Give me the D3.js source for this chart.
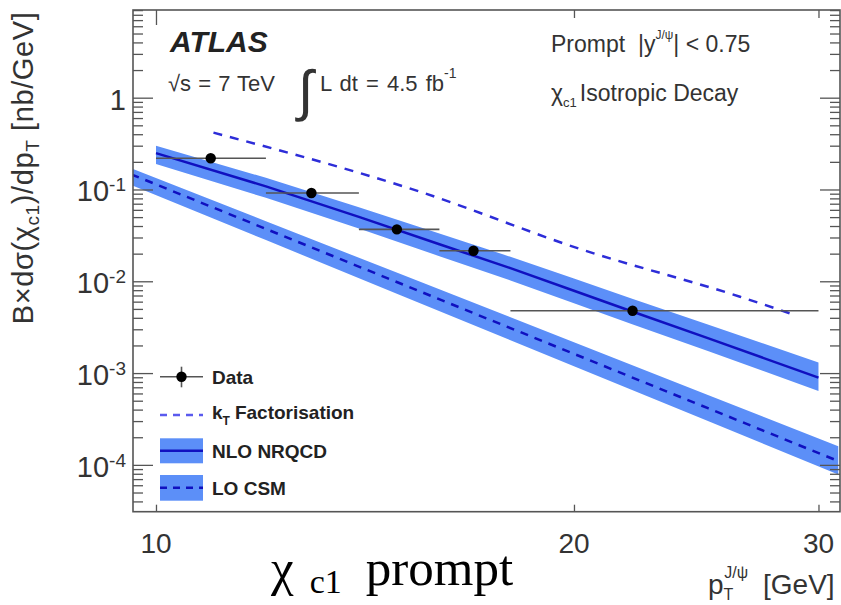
<!DOCTYPE html>
<html>
<head>
<meta charset="utf-8">
<script src="https://cdn.jsdelivr.net/npm/d3@7"></script>
<style>
  body { margin: 0; background: #fff; }
  text { font-family: "Liberation Sans", Arial, Helvetica, sans-serif; white-space: pre; }
</style>
</head>
<body>
<div id="chart"></div>
<script>
// measured chi_c1 prompt cross-section, pT bins in GeV
const binLo = [10, 12, 14, 16, 18];
const binHi = [12, 14, 16, 18, 30];
const dataPt = [10.95, 12.94, 14.91, 16.93, 22.04];
const dataVal = [0.219, 0.0916, 0.0368, 0.0215, 0.00478];

// NLO NRQCD band
const nloPt = [10, 12, 14, 16, 18, 20, 22, 25, 30];
const nloMid = [0.249, 0.108, 0.0503, 0.02535, 0.01389, 0.00788, 0.00471, 0.00239, 0.000891];
const nloHi = [0.299, 0.134, 0.0641, 0.0331, 0.01849, 0.0107, 0.0065, 0.00337, 0.0013];
const nloLo = [0.189, 0.0811, 0.0375, 0.01876, 0.01022, 0.00576, 0.00342, 0.00173, 0.000638];

// LO CSM band
const csmPt = [9.6, 12, 15, 20, 25, 31];
const csmMid = [0.146, 0.0372, 0.00946, 0.00162, 0.000412, 0.00011];
const csmHi = [0.17, 0.0451, 0.01198, 0.002167, 0.000575, 0.00016];
const csmLo = [0.1117, 0.0281, 0.00706, 0.00119, 0.000299, 0.0000788];

// kT factorisation
const ktPt = [11.0, 15.49, 20.2, 26.34, 28.61];
const ktVal = [0.416, 0.0946, 0.0225, 0.00679, 0.00448];

const xTicks = [10, 20, 30];
const yMajor = [1e-4, 1e-3, 1e-2, 1e-1, 1];

const width = 841, height = 605;
const frameL = 133, frameR = 840, frameT = 10, frameB = 511.7;

const bandColor = "#5c8ff8";
const lineColor = "#1010c0";
const ktColor = "#2d2dd8";
const axisColor = "#555";

const svg = d3.select("#chart").append("svg")
    .attr("width", width)
    .attr("height", height);

const x = d3.scaleLog().domain([9.626, 31.09]).range([frameL, frameR]);
const y = d3.scaleLog().domain([3.09e-5, 9.02]).range([frameB, frameT]);

// minor ticks 2..9 in each decade
let yMinor = [];
for (let e = -5; e <= 0; e++) {
    for (let k = 2; k <= 9; k++) {
        const v = k * Math.pow(10, e);
        if (v > y.domain()[0] && v < y.domain()[1]) yMinor.push(v);
    }
}

svg.append("clipPath").attr("id", "plot-clip")
    .append("rect")
    .attr("x", frameL).attr("y", frameT)
    .attr("width", frameR - frameL).attr("height", frameB - frameT);

const plot = svg.append("g").attr("clip-path", "url(#plot-clip)");

const band = (pts, lo, hi) => d3.area()
    .x((d, i) => x(pts[i]))
    .y0((d, i) => y(lo[i]))
    .y1((d, i) => y(hi[i]))(pts);

const line = (pts, vals, curve) => d3.line()
    .curve(curve || d3.curveLinear)
    .x((d, i) => x(pts[i]))
    .y((d, i) => y(vals[i]))(pts);

// LO CSM
plot.append("path").attr("d", band(csmPt, csmLo, csmHi)).attr("fill", bandColor);
plot.append("path").attr("d", line(csmPt, csmMid))
    .attr("fill", "none").attr("stroke", lineColor).attr("stroke-width", 2.5)
    .attr("stroke-dasharray", "8,7");

// NLO NRQCD
plot.append("path").attr("d", band(nloPt, nloLo, nloHi)).attr("fill", bandColor);
plot.append("path").attr("d", line(nloPt, nloMid))
    .attr("fill", "none").attr("stroke", lineColor).attr("stroke-width", 2.5);

// kT factorisation
plot.append("path").attr("d", line(ktPt, ktVal, d3.curveMonotoneX))
    .attr("fill", "none").attr("stroke", ktColor).attr("stroke-width", 2.5)
    .attr("stroke-dasharray", "9,8");

// data
const pts = plot.append("g");
dataPt.forEach((p, i) => {
    pts.append("line")
        .attr("x1", x(binLo[i])).attr("x2", x(binHi[i]))
        .attr("y1", y(dataVal[i])).attr("y2", y(dataVal[i]))
        .attr("stroke", "#555").attr("stroke-width", 1.6);
    pts.append("circle")
        .attr("cx", x(p)).attr("cy", y(dataVal[i])).attr("r", 5.2)
        .attr("fill", "#000");
});

// frame and ticks
const styleAxis = g => {
    g.select(".domain").remove();
    g.selectAll("line").attr("stroke", axisColor).attr("stroke-width", 1.3);
};
svg.append("g").attr("transform", `translate(${frameL},0)`)
    .call(d3.axisLeft(y).tickValues(yMinor).tickSize(-10).tickFormat("")).call(styleAxis);
svg.append("g").attr("transform", `translate(${frameL},0)`)
    .call(d3.axisLeft(y).tickValues(yMajor).tickSize(-20).tickFormat("")).call(styleAxis);
svg.append("g").attr("transform", `translate(${frameR},0)`)
    .call(d3.axisRight(y).tickValues(yMinor).tickSize(-10).tickFormat("")).call(styleAxis);
svg.append("g").attr("transform", `translate(${frameR},0)`)
    .call(d3.axisRight(y).tickValues(yMajor).tickSize(-20).tickFormat("")).call(styleAxis);
svg.append("g").attr("transform", `translate(0,${frameB})`)
    .call(d3.axisBottom(x).tickValues(xTicks).tickSize(-7).tickFormat("")).call(styleAxis);
svg.append("g").attr("transform", `translate(0,${frameT})`)
    .call(d3.axisTop(x).tickValues(xTicks.slice(1)).tickSize(-8).tickFormat("")).call(styleAxis);
svg.append("g").attr("transform", `translate(0,${frameT})`)
    .call(d3.axisTop(x).tickValues(xTicks.slice(0, 1)).tickSize(-15).tickFormat("")).call(styleAxis);

svg.append("rect")
    .attr("x", frameL).attr("y", frameT)
    .attr("width", frameR - frameL).attr("height", frameB - frameT)
    .attr("fill", "none").attr("stroke", axisColor).attr("stroke-width", 1.6);

// tick labels
yMajor.forEach(v => {
    const t = svg.append("text")
        .attr("x", 126).attr("y", y(v) + 12)
        .attr("text-anchor", "end")
        .attr("font-size", 29).attr("fill", "#333");
    if (v === 1) {
        t.text("1");
    } else {
        t.append("tspan").text("10");
        t.append("tspan").attr("dy", -10).attr("font-size", 19).text(Math.round(Math.log10(v)));
    }
});
xTicks.forEach(v => {
    svg.append("text")
        .attr("x", x(v)).attr("y", 553)
        .attr("text-anchor", "middle")
        .attr("font-size", 28).attr("fill", "#333")
        .text(v);
});

// axis titles
const yt = svg.append("text")
    .attr("transform", "translate(33,168) rotate(-90)")
    .attr("text-anchor", "middle")
    .attr("letter-spacing", 0.6)
    .attr("font-size", 29).attr("fill", "#333");
yt.append("tspan").text("B×dσ(χ");
yt.append("tspan").attr("font-size", 19).attr("dy", 6).text("c1");
yt.append("tspan").attr("dy", -6).text(")/dp");
yt.append("tspan").attr("font-size", 19).attr("dy", 6).text("T");
yt.append("tspan").attr("dy", -6).text(" [nb/GeV]");

const xt = svg.append("text")
    .attr("x", 708).attr("y", 594)
    .attr("font-size", 28).attr("fill", "#333");
xt.append("tspan").text("p");
xt.append("tspan").attr("font-size", 16).attr("dy", 6).text("T");
xt.append("tspan").attr("font-size", 16).attr("dx", -9).attr("dy", -22).text("J/ψ");
xt.append("tspan").attr("dx", 7).attr("dy", 16).text(" [GeV]");

// labels inside plot
svg.append("text")
    .attr("x", 170).attr("y", 52)
    .attr("font-size", 30).attr("font-weight", "bold").attr("font-style", "italic")
    .attr("fill", "#222").text("ATLAS");

svg.append("text")
    .attr("x", 168).attr("y", 91)
    .attr("font-size", 22).attr("fill", "#333")
    .attr("word-spacing", 1)
    .text("√s = 7 TeV");
svg.append("text")
    .attr("x", 298).attr("y", 110)
    .attr("font-size", 56).attr("fill", "#333")
    .text("∫");
const lum = svg.append("text")
    .attr("x", 320).attr("y", 91)
    .attr("font-size", 22).attr("fill", "#333")
    .attr("word-spacing", 2);
lum.append("tspan").text("L dt = 4.5 fb");
lum.append("tspan").attr("font-size", 14).attr("dy", -13).text("-1");

const pr = svg.append("text")
    .attr("x", 551).attr("y", 52)
    .attr("font-size", 23).attr("fill", "#333");
pr.append("tspan").text("Prompt  |y");
pr.append("tspan").attr("font-size", 12).attr("dy", -13).text("J/ψ");
pr.append("tspan").attr("dy", 13).text("| < 0.75");

const iso = svg.append("text")
    .attr("x", 551).attr("y", 101)
    .attr("font-size", 23).attr("fill", "#333");
iso.append("tspan").text("χ");
iso.append("tspan").attr("font-size", 13).attr("dy", 6).text("c1");
iso.append("tspan").attr("dx", 3).attr("dy", -6).text("Isotropic Decay");

// legend
const lg = svg.append("g");
const lx0 = 160, lx1 = 203, ltx = 212;
lg.append("line").attr("x1", lx0).attr("x2", lx1).attr("y1", 376.7).attr("y2", 376.7)
    .attr("stroke", "#555").attr("stroke-width", 1.6);
lg.append("line").attr("x1", 181.5).attr("x2", 181.5).attr("y1", 366.7).attr("y2", 387.3)
    .attr("stroke", "#555").attr("stroke-width", 1.6);
lg.append("circle").attr("cx", 181.5).attr("cy", 376.7).attr("r", 5.2).attr("fill", "#000");

lg.append("line").attr("x1", lx0).attr("x2", lx1).attr("y1", 415).attr("y2", 415)
    .attr("stroke", "#5a5aee").attr("stroke-width", 2.5).attr("stroke-dasharray", "7,6");

lg.append("rect").attr("x", lx0).attr("y", 438.3).attr("width", lx1 - lx0).attr("height", 25)
    .attr("fill", bandColor);
lg.append("line").attr("x1", lx0).attr("x2", lx1).attr("y1", 450.7).attr("y2", 450.7)
    .attr("stroke", lineColor).attr("stroke-width", 2.5);

lg.append("rect").attr("x", lx0).attr("y", 475).attr("width", lx1 - lx0).attr("height", 25.7)
    .attr("fill", bandColor);
lg.append("line").attr("x1", lx0).attr("x2", lx1).attr("y1", 487.7).attr("y2", 487.7)
    .attr("stroke", lineColor).attr("stroke-width", 2.5).attr("stroke-dasharray", "7,6");

const legText = (yy, parts) => {
    const t = lg.append("text").attr("x", ltx).attr("y", yy)
        .attr("font-size", 19).attr("font-weight", "bold").attr("fill", "#222");
    parts(t);
};
legText(383.5, t => t.text("Data"));
legText(419, t => {
    t.append("tspan").text("k");
    t.append("tspan").attr("font-size", 12).attr("dy", 6).text("T");
    t.append("tspan").attr("dx", 5).attr("dy", -6).text("Factorisation");
});
legText(457.5, t => t.text("NLO NRQCD"));
legText(494.5, t => t.text("LO CSM"));

// big caption
const serif = "'Liberation Serif', 'Times New Roman', serif";
const cap = svg.append("text")
    .attr("x", 271).attr("y", 585)
    .attr("font-size", 51).attr("fill", "#000");
cap.append("tspan").style("font-family", serif).text("χ");
cap.append("tspan").style("font-family", serif)
    .attr("font-size", 34).attr("dx", 16).attr("dy", 8).text("c1");
cap.append("tspan").style("font-family", serif)
    .attr("dx", 24).attr("dy", -8).text("prompt");
</script>
</body>
</html>
